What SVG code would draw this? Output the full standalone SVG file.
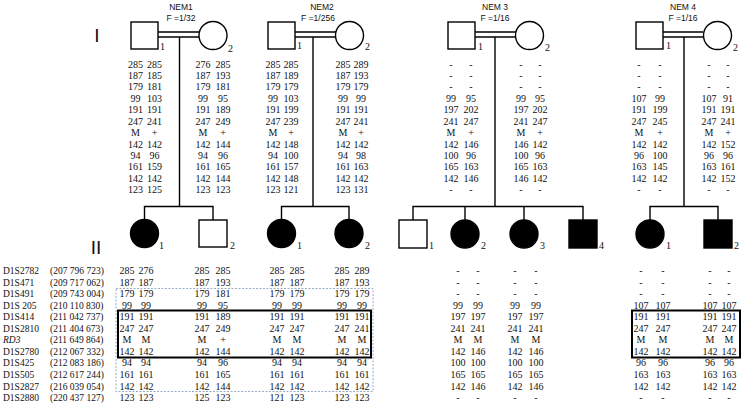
<svg xmlns="http://www.w3.org/2000/svg" width="744" height="404" viewBox="0 0 744 404">
<style>
.d{font-family:"Liberation Serif","Times New Roman",serif;font-size:10px;fill:#111;text-anchor:middle}
.lb{font-family:"Liberation Serif","Times New Roman",serif;font-size:10px;fill:#111}
.ml{font-family:"Liberation Serif","Times New Roman",serif;font-size:9.5px;fill:#111}
.hd{font-family:"Liberation Sans",Arial,sans-serif;font-size:8.5px;fill:#111;text-anchor:middle}
.gen{font-family:"Liberation Sans",Arial,sans-serif;font-size:19px;fill:#111;text-anchor:middle}
.sh{fill:#fff;stroke:#000;stroke-width:1.4}
.af{fill:#000;stroke:#000;stroke-width:1.4}
.ln{stroke:#000;stroke-width:1.4;fill:none}
.bx{fill:none;stroke:#000;stroke-width:2}
.dbx{fill:none;stroke:#8da3bd;stroke-width:0.9;stroke-dasharray:2 1.5}
</style>
<rect width="744" height="404" fill="#fff"/>
<text class="gen" x="97" y="42">I</text>
<text class="gen" x="96" y="254">II</text>
<g id="headers">
<text class="hd" x="181" y="9.5">NEM1</text><text class="hd" x="181" y="21">F =1/32</text>
<text class="hd" x="322" y="9.5">NEM2</text><text class="hd" x="318" y="21">F =1/256</text>
<text class="hd" x="495" y="9.5">NEM 3</text><text class="hd" x="495" y="21">F =1/16</text>
<text class="hd" x="683" y="9.5">NEM 4</text><text class="hd" x="683" y="21">F =1/16</text>
</g>
<g id="markers">
<text class="ml" x="3" y="274">D1S2782</text><text class="ml" x="50" y="274">(207 796 723)</text>
<text class="ml" x="3" y="285.6">D1S471</text><text class="ml" x="50" y="285.6">(209 717 062)</text>
<text class="ml" x="3" y="297.1">D1S491</text><text class="ml" x="50" y="297.1">(209 743 004)</text>
<text class="ml" x="3" y="308.7">D1S 205</text><text class="ml" x="50" y="308.7">(210 110 830)</text>
<text class="ml" x="3" y="320.2">D1S414</text><text class="ml" x="50" y="320.2">(211 042 737)</text>
<text class="ml" x="3" y="331.8">D1S2810</text><text class="ml" x="50" y="331.8">(211 404 673)</text>
<text class="ml" x="3" y="343.3" font-style="italic">RD3</text><text class="ml" x="50" y="343.3">(211 649 864)</text>
<text class="ml" x="3" y="354.9">D1S2780</text><text class="ml" x="50" y="354.9">(212 067 332)</text>
<text class="ml" x="3" y="366.4">D1S425</text><text class="ml" x="50" y="366.4">(212 083 186)</text>
<text class="ml" x="3" y="377.9">D1S505</text><text class="ml" x="50" y="377.9">(212 617 244)</text>
<text class="ml" x="3" y="389.5">D1S2827</text><text class="ml" x="50" y="389.5">(216 039 054)</text>
<text class="ml" x="3" y="401.1">D1S2880</text><text class="ml" x="50" y="401.1">(220 437 127)</text>
</g>
<g id="connectors">
<line class="ln" x1="158" y1="32" x2="199" y2="32"/><line class="ln" x1="158" y1="37" x2="199" y2="37"/>
<polyline class="ln" points="179.5,37 179.5,206.5"/>
<polyline class="ln" points="144.5,220 144.5,206.5 213,206.5 213,220"/>
<line class="ln" x1="295" y1="32" x2="336" y2="32"/><line class="ln" x1="295" y1="37" x2="336" y2="37"/>
<polyline class="ln" points="313,37 313,206.5"/>
<polyline class="ln" points="281.5,220 281.5,206.5 349,206.5 349,220"/>
<line class="ln" x1="475" y1="32" x2="516" y2="32"/><line class="ln" x1="475" y1="37" x2="516" y2="37"/>
<polyline class="ln" points="495,37 495,206.5"/>
<polyline class="ln" points="413,220 413,206.5 583,206.5 583,220"/>
<line class="ln" x1="465" y1="206.5" x2="465" y2="220"/><line class="ln" x1="524" y1="206.5" x2="524" y2="220"/>
<line class="ln" x1="663" y1="32" x2="703" y2="32"/><line class="ln" x1="663" y1="37" x2="703" y2="37"/>
<polyline class="ln" points="684,37 684,206.5"/>
<polyline class="ln" points="650,220 650,206.5 718,206.5 718,220"/>
</g>
<g id="nem1-I1">
<rect class="sh" x="131" y="22" width="27" height="27"/><text class="lb" x="160" y="50">1</text>
<text class="d"><tspan x="135.5" y="67.6">285</tspan><tspan x="135.5" dy="11.43">187</tspan><tspan x="135.5" dy="11.43">179</tspan><tspan x="135.5" dy="11.43">99</tspan><tspan x="135.5" dy="11.43">191</tspan><tspan x="135.5" dy="11.43">247</tspan><tspan x="135.5" dy="11.43">M</tspan><tspan x="135.5" dy="11.43">142</tspan><tspan x="135.5" dy="11.43">94</tspan><tspan x="135.5" dy="11.43">161</tspan><tspan x="135.5" dy="11.43">142</tspan><tspan x="135.5" dy="11.43">123</tspan></text>
<text class="d"><tspan x="154.5" y="67.6">285</tspan><tspan x="154.5" dy="11.43">185</tspan><tspan x="154.5" dy="11.43">181</tspan><tspan x="154.5" dy="11.43">103</tspan><tspan x="154.5" dy="11.43">191</tspan><tspan x="154.5" dy="11.43">241</tspan><tspan x="154.5" dy="11.43">+</tspan><tspan x="154.5" dy="11.43">142</tspan><tspan x="154.5" dy="11.43">96</tspan><tspan x="154.5" dy="11.43">159</tspan><tspan x="154.5" dy="11.43">142</tspan><tspan x="154.5" dy="11.43">125</tspan></text>
</g>
<g id="nem1-I2">
<circle class="sh" cx="213" cy="35.5" r="14"/><text class="lb" x="228" y="52">2</text>
<text class="d"><tspan x="203" y="67.6">276</tspan><tspan x="203" dy="11.43">187</tspan><tspan x="203" dy="11.43">179</tspan><tspan x="203" dy="11.43">99</tspan><tspan x="203" dy="11.43">191</tspan><tspan x="203" dy="11.43">247</tspan><tspan x="203" dy="11.43">M</tspan><tspan x="203" dy="11.43">142</tspan><tspan x="203" dy="11.43">94</tspan><tspan x="203" dy="11.43">161</tspan><tspan x="203" dy="11.43">142</tspan><tspan x="203" dy="11.43">123</tspan></text>
<text class="d"><tspan x="223" y="67.6">285</tspan><tspan x="223" dy="11.43">193</tspan><tspan x="223" dy="11.43">181</tspan><tspan x="223" dy="11.43">95</tspan><tspan x="223" dy="11.43">189</tspan><tspan x="223" dy="11.43">249</tspan><tspan x="223" dy="11.43">+</tspan><tspan x="223" dy="11.43">144</tspan><tspan x="223" dy="11.43">96</tspan><tspan x="223" dy="11.43">165</tspan><tspan x="223" dy="11.43">144</tspan><tspan x="223" dy="11.43">123</tspan></text>
</g>
<g id="nem2-I1">
<rect class="sh" x="268" y="22" width="27" height="27"/><text class="lb" x="297" y="49">1</text>
<text class="d"><tspan x="273" y="67.6">285</tspan><tspan x="273" dy="11.43">187</tspan><tspan x="273" dy="11.43">179</tspan><tspan x="273" dy="11.43">99</tspan><tspan x="273" dy="11.43">191</tspan><tspan x="273" dy="11.43">247</tspan><tspan x="273" dy="11.43">M</tspan><tspan x="273" dy="11.43">142</tspan><tspan x="273" dy="11.43">94</tspan><tspan x="273" dy="11.43">161</tspan><tspan x="273" dy="11.43">142</tspan><tspan x="273" dy="11.43">123</tspan></text>
<text class="d"><tspan x="291" y="67.6">285</tspan><tspan x="291" dy="11.43">189</tspan><tspan x="291" dy="11.43">179</tspan><tspan x="291" dy="11.43">103</tspan><tspan x="291" dy="11.43">199</tspan><tspan x="291" dy="11.43">239</tspan><tspan x="291" dy="11.43">+</tspan><tspan x="291" dy="11.43">148</tspan><tspan x="291" dy="11.43">100</tspan><tspan x="291" dy="11.43">157</tspan><tspan x="291" dy="11.43">148</tspan><tspan x="291" dy="11.43">121</tspan></text>
</g>
<g id="nem2-I2">
<circle class="sh" cx="349.5" cy="35.5" r="14"/><text class="lb" x="365" y="50">2</text>
<text class="d"><tspan x="343" y="67.6">285</tspan><tspan x="343" dy="11.43">187</tspan><tspan x="343" dy="11.43">179</tspan><tspan x="343" dy="11.43">99</tspan><tspan x="343" dy="11.43">191</tspan><tspan x="343" dy="11.43">247</tspan><tspan x="343" dy="11.43">M</tspan><tspan x="343" dy="11.43">142</tspan><tspan x="343" dy="11.43">94</tspan><tspan x="343" dy="11.43">161</tspan><tspan x="343" dy="11.43">142</tspan><tspan x="343" dy="11.43">123</tspan></text>
<text class="d"><tspan x="361" y="67.6">289</tspan><tspan x="361" dy="11.43">193</tspan><tspan x="361" dy="11.43">179</tspan><tspan x="361" dy="11.43">99</tspan><tspan x="361" dy="11.43">191</tspan><tspan x="361" dy="11.43">241</tspan><tspan x="361" dy="11.43">+</tspan><tspan x="361" dy="11.43">142</tspan><tspan x="361" dy="11.43">98</tspan><tspan x="361" dy="11.43">163</tspan><tspan x="361" dy="11.43">142</tspan><tspan x="361" dy="11.43">131</tspan></text>
</g>
<g id="nem3-I1">
<rect class="sh" x="448" y="22" width="27" height="27"/><text class="lb" x="478" y="50">1</text>
<text class="d"><tspan x="451" y="67.6">-</tspan><tspan x="451" dy="11.43">-</tspan><tspan x="451" dy="11.43">-</tspan><tspan x="451" dy="11.43">99</tspan><tspan x="451" dy="11.43">197</tspan><tspan x="451" dy="11.43">241</tspan><tspan x="451" dy="11.43">M</tspan><tspan x="451" dy="11.43">142</tspan><tspan x="451" dy="11.43">100</tspan><tspan x="451" dy="11.43">165</tspan><tspan x="451" dy="11.43">142</tspan><tspan x="451" dy="11.43">-</tspan></text>
<text class="d"><tspan x="471" y="67.6">-</tspan><tspan x="471" dy="11.43">-</tspan><tspan x="471" dy="11.43">-</tspan><tspan x="471" dy="11.43">95</tspan><tspan x="471" dy="11.43">202</tspan><tspan x="471" dy="11.43">247</tspan><tspan x="471" dy="11.43">+</tspan><tspan x="471" dy="11.43">146</tspan><tspan x="471" dy="11.43">96</tspan><tspan x="471" dy="11.43">163</tspan><tspan x="471" dy="11.43">146</tspan><tspan x="471" dy="11.43">-</tspan></text>
</g>
<g id="nem3-I2">
<circle class="sh" cx="529.5" cy="35.5" r="14"/><text class="lb" x="545" y="51">2</text>
<text class="d"><tspan x="521" y="67.6">-</tspan><tspan x="521" dy="11.43">-</tspan><tspan x="521" dy="11.43">-</tspan><tspan x="521" dy="11.43">99</tspan><tspan x="521" dy="11.43">197</tspan><tspan x="521" dy="11.43">241</tspan><tspan x="521" dy="11.43">M</tspan><tspan x="521" dy="11.43">146</tspan><tspan x="521" dy="11.43">100</tspan><tspan x="521" dy="11.43">165</tspan><tspan x="521" dy="11.43">146</tspan><tspan x="521" dy="11.43">-</tspan></text>
<text class="d"><tspan x="540" y="67.6">-</tspan><tspan x="540" dy="11.43">-</tspan><tspan x="540" dy="11.43">-</tspan><tspan x="540" dy="11.43">95</tspan><tspan x="540" dy="11.43">202</tspan><tspan x="540" dy="11.43">247</tspan><tspan x="540" dy="11.43">+</tspan><tspan x="540" dy="11.43">142</tspan><tspan x="540" dy="11.43">96</tspan><tspan x="540" dy="11.43">163</tspan><tspan x="540" dy="11.43">142</tspan><tspan x="540" dy="11.43">-</tspan></text>
</g>
<g id="nem4-I1">
<rect class="sh" x="636" y="22" width="27" height="27"/><text class="lb" x="666" y="49">1</text>
<text class="d"><tspan x="639" y="67.6">-</tspan><tspan x="639" dy="11.43">-</tspan><tspan x="639" dy="11.43">-</tspan><tspan x="639" dy="11.43">107</tspan><tspan x="639" dy="11.43">191</tspan><tspan x="639" dy="11.43">247</tspan><tspan x="639" dy="11.43">M</tspan><tspan x="639" dy="11.43">142</tspan><tspan x="639" dy="11.43">96</tspan><tspan x="639" dy="11.43">163</tspan><tspan x="639" dy="11.43">142</tspan><tspan x="639" dy="11.43">-</tspan></text>
<text class="d"><tspan x="660" y="67.6">-</tspan><tspan x="660" dy="11.43">-</tspan><tspan x="660" dy="11.43">-</tspan><tspan x="660" dy="11.43">99</tspan><tspan x="660" dy="11.43">199</tspan><tspan x="660" dy="11.43">245</tspan><tspan x="660" dy="11.43">+</tspan><tspan x="660" dy="11.43">142</tspan><tspan x="660" dy="11.43">100</tspan><tspan x="660" dy="11.43">145</tspan><tspan x="660" dy="11.43">142</tspan><tspan x="660" dy="11.43">-</tspan></text>
</g>
<g id="nem4-I2">
<circle class="sh" cx="717.5" cy="35.5" r="14"/><text class="lb" x="733" y="51">2</text>
<text class="d"><tspan x="709" y="67.6">-</tspan><tspan x="709" dy="11.43">-</tspan><tspan x="709" dy="11.43">-</tspan><tspan x="709" dy="11.43">107</tspan><tspan x="709" dy="11.43">191</tspan><tspan x="709" dy="11.43">247</tspan><tspan x="709" dy="11.43">M</tspan><tspan x="709" dy="11.43">142</tspan><tspan x="709" dy="11.43">96</tspan><tspan x="709" dy="11.43">163</tspan><tspan x="709" dy="11.43">142</tspan><tspan x="709" dy="11.43">-</tspan></text>
<text class="d"><tspan x="728" y="67.6">-</tspan><tspan x="728" dy="11.43">-</tspan><tspan x="728" dy="11.43">-</tspan><tspan x="728" dy="11.43">91</tspan><tspan x="728" dy="11.43">191</tspan><tspan x="728" dy="11.43">241</tspan><tspan x="728" dy="11.43">+</tspan><tspan x="728" dy="11.43">152</tspan><tspan x="728" dy="11.43">96</tspan><tspan x="728" dy="11.43">161</tspan><tspan x="728" dy="11.43">152</tspan><tspan x="728" dy="11.43">-</tspan></text>
</g>
<g id="nem1-II1">
<circle class="af" cx="144.5" cy="233.5" r="14"/><text class="lb" x="159" y="249">1</text>
<text class="d"><tspan x="127" y="274">285</tspan><tspan x="127" dy="11.55">187</tspan><tspan x="127" dy="11.55">179</tspan><tspan x="127" dy="11.55">99</tspan><tspan x="127" dy="11.55">191</tspan><tspan x="127" dy="11.55">247</tspan><tspan x="127" dy="11.55">M</tspan><tspan x="127" dy="11.55">142</tspan><tspan x="127" dy="11.55">94</tspan><tspan x="127" dy="11.55">161</tspan><tspan x="127" dy="11.55">142</tspan><tspan x="127" dy="11.55">123</tspan></text>
<text class="d"><tspan x="146" y="274">276</tspan><tspan x="146" dy="11.55">187</tspan><tspan x="146" dy="11.55">179</tspan><tspan x="146" dy="11.55">99</tspan><tspan x="146" dy="11.55">191</tspan><tspan x="146" dy="11.55">247</tspan><tspan x="146" dy="11.55">M</tspan><tspan x="146" dy="11.55">142</tspan><tspan x="146" dy="11.55">94</tspan><tspan x="146" dy="11.55">161</tspan><tspan x="146" dy="11.55">142</tspan><tspan x="146" dy="11.55">123</tspan></text>
</g>
<g id="nem1-II2">
<rect class="sh" x="199" y="220" width="28" height="27"/><text class="lb" x="230" y="249">2</text>
<text class="d"><tspan x="202" y="274">285</tspan><tspan x="202" dy="11.55">187</tspan><tspan x="202" dy="11.55">179</tspan><tspan x="202" dy="11.55">99</tspan><tspan x="202" dy="11.55">191</tspan><tspan x="202" dy="11.55">247</tspan><tspan x="202" dy="11.55">M</tspan><tspan x="202" dy="11.55">142</tspan><tspan x="202" dy="11.55">94</tspan><tspan x="202" dy="11.55">161</tspan><tspan x="202" dy="11.55">142</tspan><tspan x="202" dy="11.55">125</tspan></text>
<text class="d"><tspan x="223" y="274">285</tspan><tspan x="223" dy="11.55">193</tspan><tspan x="223" dy="11.55">181</tspan><tspan x="223" dy="11.55">95</tspan><tspan x="223" dy="11.55">189</tspan><tspan x="223" dy="11.55">249</tspan><tspan x="223" dy="11.55">+</tspan><tspan x="223" dy="11.55">144</tspan><tspan x="223" dy="11.55">96</tspan><tspan x="223" dy="11.55">165</tspan><tspan x="223" dy="11.55">144</tspan><tspan x="223" dy="11.55">123</tspan></text>
</g>
<g id="nem2-II1">
<circle class="af" cx="281.5" cy="233.5" r="14"/><text class="lb" x="297" y="249">1</text>
<text class="d"><tspan x="277" y="274">285</tspan><tspan x="277" dy="11.55">187</tspan><tspan x="277" dy="11.55">179</tspan><tspan x="277" dy="11.55">99</tspan><tspan x="277" dy="11.55">191</tspan><tspan x="277" dy="11.55">247</tspan><tspan x="277" dy="11.55">M</tspan><tspan x="277" dy="11.55">142</tspan><tspan x="277" dy="11.55">94</tspan><tspan x="277" dy="11.55">161</tspan><tspan x="277" dy="11.55">142</tspan><tspan x="277" dy="11.55">121</tspan></text>
<text class="d"><tspan x="297" y="274">285</tspan><tspan x="297" dy="11.55">187</tspan><tspan x="297" dy="11.55">179</tspan><tspan x="297" dy="11.55">99</tspan><tspan x="297" dy="11.55">191</tspan><tspan x="297" dy="11.55">247</tspan><tspan x="297" dy="11.55">M</tspan><tspan x="297" dy="11.55">142</tspan><tspan x="297" dy="11.55">94</tspan><tspan x="297" dy="11.55">161</tspan><tspan x="297" dy="11.55">142</tspan><tspan x="297" dy="11.55">123</tspan></text>
</g>
<g id="nem2-II2">
<circle class="af" cx="349" cy="233.5" r="14"/><text class="lb" x="365" y="249">2</text>
<text class="d"><tspan x="342" y="274">285</tspan><tspan x="342" dy="11.55">187</tspan><tspan x="342" dy="11.55">179</tspan><tspan x="342" dy="11.55">99</tspan><tspan x="342" dy="11.55">191</tspan><tspan x="342" dy="11.55">247</tspan><tspan x="342" dy="11.55">M</tspan><tspan x="342" dy="11.55">142</tspan><tspan x="342" dy="11.55">94</tspan><tspan x="342" dy="11.55">161</tspan><tspan x="342" dy="11.55">142</tspan><tspan x="342" dy="11.55">123</tspan></text>
<text class="d"><tspan x="362" y="274">289</tspan><tspan x="362" dy="11.55">193</tspan><tspan x="362" dy="11.55">179</tspan><tspan x="362" dy="11.55">99</tspan><tspan x="362" dy="11.55">191</tspan><tspan x="362" dy="11.55">241</tspan><tspan x="362" dy="11.55">M</tspan><tspan x="362" dy="11.55">142</tspan><tspan x="362" dy="11.55">94</tspan><tspan x="362" dy="11.55">161</tspan><tspan x="362" dy="11.55">142</tspan><tspan x="362" dy="11.55">123</tspan></text>
</g>
<g id="nem3-II1">
<rect class="sh" x="399" y="220" width="28" height="28"/><text class="lb" x="429" y="249">1</text>
</g>
<g id="nem3-II2">
<circle class="af" cx="465" cy="234" r="14"/><text class="lb" x="481" y="249">2</text>
<text class="d"><tspan x="458" y="274">-</tspan><tspan x="458" dy="11.55">-</tspan><tspan x="458" dy="11.55">-</tspan><tspan x="458" dy="11.55">99</tspan><tspan x="458" dy="11.55">197</tspan><tspan x="458" dy="11.55">241</tspan><tspan x="458" dy="11.55">M</tspan><tspan x="458" dy="11.55">142</tspan><tspan x="458" dy="11.55">100</tspan><tspan x="458" dy="11.55">165</tspan><tspan x="458" dy="11.55">142</tspan><tspan x="458" dy="11.55">-</tspan></text>
<text class="d"><tspan x="478" y="274">-</tspan><tspan x="478" dy="11.55">-</tspan><tspan x="478" dy="11.55">-</tspan><tspan x="478" dy="11.55">99</tspan><tspan x="478" dy="11.55">197</tspan><tspan x="478" dy="11.55">241</tspan><tspan x="478" dy="11.55">M</tspan><tspan x="478" dy="11.55">146</tspan><tspan x="478" dy="11.55">100</tspan><tspan x="478" dy="11.55">165</tspan><tspan x="478" dy="11.55">146</tspan><tspan x="478" dy="11.55">-</tspan></text>
</g>
<g id="nem3-II3">
<circle class="af" cx="524" cy="234" r="14"/><text class="lb" x="540" y="249">3</text>
<text class="d"><tspan x="515" y="274">-</tspan><tspan x="515" dy="11.55">-</tspan><tspan x="515" dy="11.55">-</tspan><tspan x="515" dy="11.55">99</tspan><tspan x="515" dy="11.55">197</tspan><tspan x="515" dy="11.55">241</tspan><tspan x="515" dy="11.55">M</tspan><tspan x="515" dy="11.55">142</tspan><tspan x="515" dy="11.55">100</tspan><tspan x="515" dy="11.55">165</tspan><tspan x="515" dy="11.55">142</tspan><tspan x="515" dy="11.55">-</tspan></text>
<text class="d"><tspan x="536" y="274">-</tspan><tspan x="536" dy="11.55">-</tspan><tspan x="536" dy="11.55">-</tspan><tspan x="536" dy="11.55">99</tspan><tspan x="536" dy="11.55">197</tspan><tspan x="536" dy="11.55">241</tspan><tspan x="536" dy="11.55">M</tspan><tspan x="536" dy="11.55">146</tspan><tspan x="536" dy="11.55">100</tspan><tspan x="536" dy="11.55">165</tspan><tspan x="536" dy="11.55">146</tspan><tspan x="536" dy="11.55">-</tspan></text>
</g>
<g id="nem3-II4">
<rect class="af" x="569" y="220" width="28" height="28"/><text class="lb" x="599" y="249">4</text>
</g>
<g id="nem4-II1">
<circle class="af" cx="650" cy="234" r="14"/><text class="lb" x="666" y="249">1</text>
<text class="d"><tspan x="641" y="274">-</tspan><tspan x="641" dy="11.55">-</tspan><tspan x="641" dy="11.55">-</tspan><tspan x="641" dy="11.55">107</tspan><tspan x="641" dy="11.55">191</tspan><tspan x="641" dy="11.55">247</tspan><tspan x="641" dy="11.55">M</tspan><tspan x="641" dy="11.55">142</tspan><tspan x="641" dy="11.55">96</tspan><tspan x="641" dy="11.55">163</tspan><tspan x="641" dy="11.55">142</tspan><tspan x="641" dy="11.55">-</tspan></text>
<text class="d"><tspan x="663" y="274">-</tspan><tspan x="663" dy="11.55">-</tspan><tspan x="663" dy="11.55">-</tspan><tspan x="663" dy="11.55">107</tspan><tspan x="663" dy="11.55">191</tspan><tspan x="663" dy="11.55">247</tspan><tspan x="663" dy="11.55">M</tspan><tspan x="663" dy="11.55">142</tspan><tspan x="663" dy="11.55">96</tspan><tspan x="663" dy="11.55">163</tspan><tspan x="663" dy="11.55">142</tspan><tspan x="663" dy="11.55">-</tspan></text>
</g>
<g id="nem4-II2">
<rect class="af" x="704" y="220" width="28" height="28"/><text class="lb" x="734" y="249">2</text>
<text class="d"><tspan x="710" y="274">-</tspan><tspan x="710" dy="11.55">-</tspan><tspan x="710" dy="11.55">-</tspan><tspan x="710" dy="11.55">107</tspan><tspan x="710" dy="11.55">191</tspan><tspan x="710" dy="11.55">247</tspan><tspan x="710" dy="11.55">M</tspan><tspan x="710" dy="11.55">142</tspan><tspan x="710" dy="11.55">96</tspan><tspan x="710" dy="11.55">163</tspan><tspan x="710" dy="11.55">142</tspan><tspan x="710" dy="11.55">-</tspan></text>
<text class="d"><tspan x="729" y="274">-</tspan><tspan x="729" dy="11.55">-</tspan><tspan x="729" dy="11.55">-</tspan><tspan x="729" dy="11.55">107</tspan><tspan x="729" dy="11.55">191</tspan><tspan x="729" dy="11.55">247</tspan><tspan x="729" dy="11.55">M</tspan><tspan x="729" dy="11.55">142</tspan><tspan x="729" dy="11.55">96</tspan><tspan x="729" dy="11.55">163</tspan><tspan x="729" dy="11.55">142</tspan><tspan x="729" dy="11.55">-</tspan></text>
</g>
<g id="haplotype-boxes">
<rect class="dbx" x="116" y="288.5" width="257" height="103"/>
<rect class="bx" x="118" y="310.5" width="253" height="47"/>
<rect class="bx" x="632" y="310.5" width="108" height="47"/>
</g>
</svg>
